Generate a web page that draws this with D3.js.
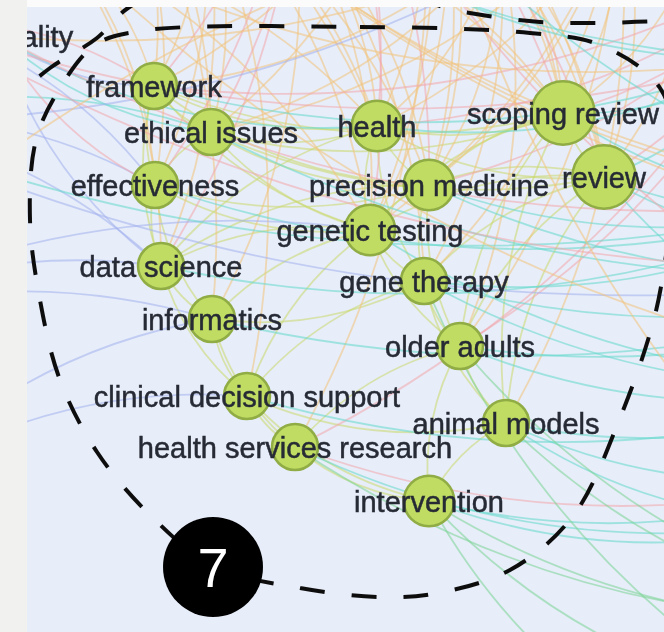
<!DOCTYPE html>
<html>
<head>
<meta charset="utf-8">
<script src="https://cdn.jsdelivr.net/npm/d3@7"></script>
<style>
  body { margin: 0; background: #f4f4f2; }
  svg { display: block; }
</style>
</head>
<body>
<div id="map"></div>
<script>
// cluster 7 keywords (map units, occurrences)
var labels = ["framework", "ethical issues", "effectiveness", "health", "scoping review", "review",
  "precision medicine", "genetic testing", "data science", "gene therapy", "informatics",
  "older adults", "clinical decision support", "animal models", "health services research", "intervention"];
var ids = ["fw", "ei", "ef", "he", "sr", "rv", "pm", "gt", "ds", "gth", "inf", "oa", "cds", "am", "hsr", "iv"];
var mapX = [-1.91, -1.34, -1.90, 0.32, 2.18, 2.59, 0.84, 0.25, -1.84, 0.79, -1.33, 1.15, -0.98, 1.61, -0.50, 0.84];
var mapY = [-2.24, -1.78, -1.25, -1.84, -1.97, -1.33, -1.25, -0.80, -0.44, -0.29, 0.09, 0.36, 0.86, 1.13, 1.37, 1.91];
var occurrences = [10, 10, 10, 12, 19, 19, 12, 12, 10, 10, 10, 10, 10, 10, 10, 12];

// neighbouring clusters, lying outside the visible window
var extIds = ["Q", "T1", "T2", "T3", "T4", "T5", "T6", "T7", "T8", "T9", "P1", "P2", "C1", "C2", "C3", "C4", "C5", "C6", "G1", "G2", "G3", "B1", "B2", "B3", "B4"];
var extLabels = ["care quality", null, null, null, null, null, null, null, null, null, null, null, null, null, null, null, null, null, null, null, null, null, null, null, null];
var extX = [-3.46, -1.45, 0.75, 2.75, -2.85, 1.55, -2.45, -0.50, 3.50, 1.00, 4.55, -0.45, 5.15, 5.75, 4.75, 6.55, 4.15, 5.35, 5.55, 4.35, 3.55, -4.95, -5.45, -4.45, -4.25];
var extY = [-2.74, -4.30, -4.90, -4.10, -3.70, -3.70, -5.10, -4.00, -3.60, -4.20, -3.50, -5.60, -1.10, 0.70, 2.10, -0.50, -2.50, 1.60, 3.10, 3.90, 4.50, -1.90, 0.20, 1.70, -2.90];

var clusterColors = { k7: "#cbd96c", or: "#f3c27a", pk: "#f2a6ab", te: "#62d8cc", gr: "#7ad394", bl: "#a2b0ee" };

var links = [
  // within cluster 7
  "fw ei k7", "fw ef k7", "fw he k7", "fw sr k7", "fw gt k7", "fw ds k7", "fw pm k7",
  "ei ef k7", "ei he k7", "ei sr k7", "ei pm k7", "ei gt k7", "ei rv k7",
  "ef ds k7", "ef gt k7", "ef inf k7", "ef pm k7",
  "he sr k7", "he pm k7", "he gt k7", "he rv k7", "he gth k7", "he ds k7",
  "sr rv k7", "sr pm k7", "sr gt k7", "sr oa k7", "sr am k7",
  "rv pm k7", "rv gt k7", "rv oa k7", "rv am k7", "rv gth k7",
  "pm gt k7", "pm gth k7", "pm oa k7", "pm ds k7",
  "gt gth k7", "gt ds k7", "gt inf k7", "gt cds k7", "gt oa k7",
  "ds inf k7", "ds cds k7", "inf cds k7", "inf hsr k7", "inf gth k7",
  "gth oa k7", "gth am k7", "gth cds k7",
  "oa am k7", "oa iv k7", "oa hsr k7",
  "cds hsr k7", "cds iv k7", "cds am k7", "hsr iv k7", "am iv k7",
  // top clusters
  "fw T1 or", "fw T4 or", "fw T6 or", "fw T2 or", "fw T5 or", "ei T1 or", "ei T2 or", "ei T5 or", "ei T3 or", "ei T6 or",
  "ef T1 or", "ef T6 or", "he T1 or", "he T2 or", "he T3 or", "he T5 or", "he T4 or", "he T6 or", "he T7 or",
  "sr T2 or", "sr T3 or", "sr T5 or", "sr T1 or", "sr T7 or", "sr T8 or", "sr T9 or",
  "rv T3 or", "rv T2 or", "rv T5 or", "rv T8 or", "rv T9 or", "pm T1 or", "pm T3 or", "pm T5 or", "pm T2 or", "pm T7 or", "pm T9 or",
  "gt T2 or", "gt T4 or", "gt T1 or", "gt T3 or", "gt T7 or", "gt T9 or",
  "ef T4 or", "ds T1 or", "ds T4 or", "gth T3 or", "gth T7 or", "gth T5 or", "oa T5 or", "oa T3 or",
  "cds T1 or", "am T3 or", "hsr T2 or", "inf T6 or", "inf T7 or",
  "sr P1 pk", "rv P1 pk", "he P2 pk", "fw P2 pk", "ei P2 pk", "pm P1 pk", "gt P2 pk", "ef P2 pk",
  "hsr P1 pk", "ds P2 pk", "oa P1 pk", "sr P2 pk", "rv P2 pk", "he P1 pk", "pm P2 pk", "fw P1 pk",
  // right clusters
  "sr C1 te", "sr C5 te", "rv C1 te", "rv C2 te", "rv C4 te", "rv C5 te", "pm C1 te", "pm C4 te",
  "gt C2 te", "gth C1 te", "gth C2 te", "gth C4 te", "oa C2 te", "oa C4 te", "am C2 te", "am C3 te",
  "am C6 te", "iv C3 te", "iv C6 te", "hsr C3 te", "hsr C6 pk", "cds C2 te", "inf C4 te", "ef C1 te",
  "ds C1 te", "fw C5 te", "ei C4 te", "he C5 te",
  "iv G1 gr", "iv G2 gr", "iv G3 gr", "hsr G1 gr", "am G1 gr", "oa G1 gr", "gth G2 gr",
  // left clusters
  "ef B1 bl", "ef B4 bl", "ds B2 bl", "ds B1 bl", "inf B2 bl", "inf B3 bl", "cds B3 bl", "fw B4 pk",
  "ei B1 te", "gt B2 bl", "Q ef pk", "Q ds bl", "Q he te", "Q fw bl", "Q ei te",
  // passing through the window
  "T1 C1 or", "T4 C5 or", "T6 C4 or", "B1 C1 te", "B4 C5 pk", "B1 T3 bl", "P1 T4 pk",
  "B1 C4 bl", "Q C1 pk", "B4 C4 pk", "T2 G1 or",
  "T3 B2 or", "P2 C2 pk", "T6 C1 or", "T4 C2 or", "T7 C5 te", "P2 C1 te", "Q T3 or", "T6 C5 te"
];

// dashed outlines (map units)
var hull7 = [[-2.05, -2.79], [0.15, -2.83], [1.85, -2.77], [2.55, -2.65], [3.15, -2.22], [3.35, -1.35],
  [3.25, -0.80], [3.10, 0.05], [2.75, 1.08], [2.28, 2.06], [1.65, 2.60], [0.88, 2.84], [0.35, 2.87],
  [-0.45, 2.78], [-1.30, 2.57], [-1.95, 2.05], [-2.48, 1.42], [-2.85, 0.70], [-3.05, -0.10],
  [-3.15, -0.90], [-3.09, -1.70], [-2.85, -2.22], [-2.50, -2.65]];
var hullTop = [[-3.45, -2.00], [-2.95, -2.42], [-2.48, -2.72], [-2.17, -3.02], [-1.45, -3.35], [-0.45, -3.45],
  [0.55, -3.25], [0.95, -3.04], [1.37, -2.95], [1.95, -2.88], [2.55, -2.87], [3.15, -2.89], [3.75, -2.90]];
var clusterNo = "7";
var clusterAnchor = [-1.32, 2.57];

var W = 664, H = 632;
var panel = { x: 27, y: 7 };

var xMap = d3.scaleLinear().domain([-3, 3]).range([45, 645]);
var yMap = d3.scaleLinear().domain([-3, 3]).range([10, 610]);
var rScale = d3.scaleSqrt().domain([0, 20]).range([0, 32.5]);

var nodes = labels.map(function(l, i) {
  return { id: ids[i], label: l, x: mapX[i], y: mapY[i], w: occurrences[i] };
});
var ext = extIds.map(function(id, i) {
  return { id: id, label: extLabels[i], x: extX[i], y: extY[i], w: 10 };
});
var byId = {};
nodes.concat(ext).forEach(function(d) { byId[d.id] = d; });

var edges = links.map(function(s) {
  var p = s.split(" ");
  return { source: byId[p[0]], target: byId[p[1]], color: clusterColors[p[2]] };
});

var svg = d3.select("#map").append("svg")
  .attr("width", W)
  .attr("height", H);

svg.append("rect").attr("width", W).attr("height", H).attr("fill", "#f1f1ef");
svg.append("rect").attr("x", panel.x).attr("width", W - panel.x).attr("height", panel.y).attr("fill", "#fbfbfb");

svg.append("clipPath").attr("id", "clip")
  .append("rect")
  .attr("x", panel.x).attr("y", panel.y)
  .attr("width", W - panel.x).attr("height", H - panel.y);

var soft = svg.append("filter").attr("id", "soft");
soft.append("feGaussianBlur").attr("stdDeviation", 0.45);

var g = svg.append("g").attr("clip-path", "url(#clip)");
var inner = g.append("g").attr("filter", "url(#soft)");

inner.append("rect")
  .attr("x", panel.x).attr("y", panel.y)
  .attr("width", W - panel.x).attr("height", H - panel.y)
  .attr("fill", "#e7edf9");

// curved links, all bending the same way
function arc(d) {
  var x1 = xMap(d.source.x), y1 = yMap(d.source.y), x2 = xMap(d.target.x), y2 = yMap(d.target.y);
  var dx = x2 - x1, dy = y2 - y1;
  var p = d3.path();
  p.moveTo(x1, y1);
  p.quadraticCurveTo((x1 + x2) / 2 - dy * 0.16, (y1 + y2) / 2 + dx * 0.16, x2, y2);
  return p.toString();
}

inner.append("g")
  .attr("class", "links")
  .selectAll("path")
  .data(edges)
  .enter().append("path")
  .attr("d", arc)
  .attr("fill", "none")
  .attr("stroke", function(d) { return d.color; })
  .attr("stroke-opacity", 0.55)
  .attr("stroke-width", 1.8);

// cluster outlines
var outline = d3.line()
  .x(function(d) { return xMap(d[0]); })
  .y(function(d) { return yMap(d[1]); });

inner.append("path")
  .attr("d", outline.curve(d3.curveCatmullRomClosed)(hull7))
  .attr("fill", "none")
  .attr("stroke", "#111")
  .attr("stroke-width", 4)
  .attr("stroke-dasharray", "25,27");

inner.append("path")
  .attr("d", outline.curve(d3.curveCatmullRom)(hullTop))
  .attr("fill", "none")
  .attr("stroke", "#111")
  .attr("stroke-width", 4)
  .attr("stroke-dasharray", "25,27");

// nodes
inner.append("g")
  .attr("class", "nodes")
  .selectAll("circle")
  .data(nodes)
  .enter().append("circle")
  .attr("cx", function(d) { return xMap(d.x); })
  .attr("cy", function(d) { return yMap(d.y); })
  .attr("r", function(d) { return rScale(d.w); })
  .attr("fill", "#c0dc62")
  .attr("stroke", "#8fac45")
  .attr("stroke-width", 2.5);

inner.append("g")
  .attr("class", "labels")
  .selectAll("text")
  .data(nodes.concat(ext.filter(function(d) { return d.label; })))
  .enter().append("text")
  .attr("x", function(d) { return xMap(d.x); })
  .attr("y", function(d) { return yMap(d.y) + 11; })
  .attr("text-anchor", "middle")
  .style("font-family", "'Liberation Sans', Arial, sans-serif")
  .style("font-size", "29px")
  .attr("fill", "#272b35")
  .attr("stroke", "#272b35")
  .attr("stroke-width", 0.5)
  .text(function(d) { return d.label; });

// cluster number badge
var badge = inner.append("g")
  .attr("transform", "translate(" + xMap(clusterAnchor[0]) + "," + yMap(clusterAnchor[1]) + ")");
badge.append("circle").attr("r", 50).attr("fill", "#000");
badge.append("text")
  .attr("y", 20)
  .attr("text-anchor", "middle")
  .style("font-family", "'Liberation Sans', Arial, sans-serif")
  .style("font-size", "56px")
  .attr("fill", "#fff")
  .text(clusterNo);
</script>
</body>
</html>
